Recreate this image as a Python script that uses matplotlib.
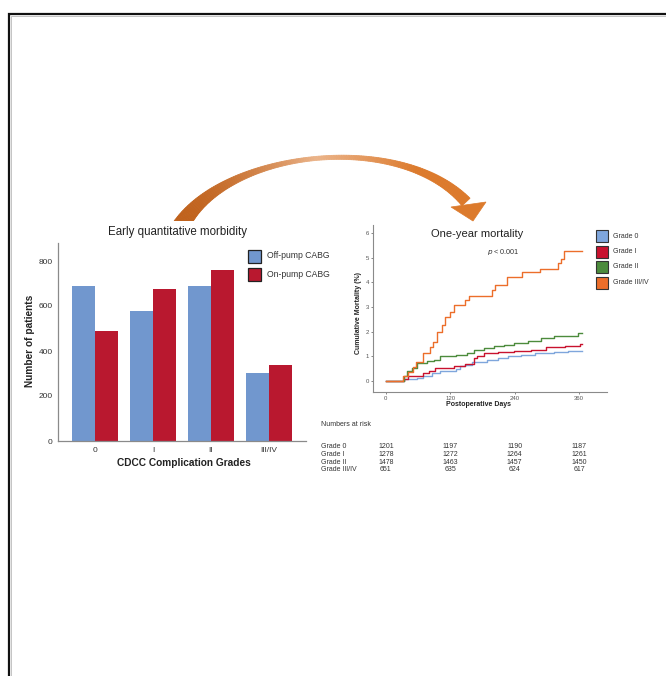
import numpy as np
import matplotlib
matplotlib.use("Agg")
import matplotlib.pyplot as plt
from matplotlib.patches import Polygon, Rectangle
from matplotlib.transforms import blended_transform_factory

plt.rcParams['font.family'] = ['Liberation Sans', 'DejaVu Sans']

# --- early morbidity (bar chart) ---
grades = ["0", "I", "II", "III/IV"]
off_pump = [690, 578, 690, 302]
on_pump = [489, 676, 759, 338]

# --- one-year mortality (cumulative incidence, %) ---
days_g0 = [0, 33, 58, 70, 86, 101, 130, 139, 148, 161, 189, 208, 227, 252, 277, 314, 320, 339, 365]
mort_g0 = [0, 0.08, 0.10, 0.19, 0.32, 0.39, 0.48, 0.59, 0.66, 0.75, 0.86, 0.93, 1.00, 1.06, 1.13, 1.16, 1.19, 1.22, 1.22]
days_g1 = [0, 33, 42, 70, 80, 92, 126, 148, 164, 170, 183, 208, 239, 270, 289, 299, 333, 361, 365]
mort_g1 = [0, 0.08, 0.19, 0.32, 0.39, 0.52, 0.59, 0.70, 0.93, 1.02, 1.13, 1.16, 1.20, 1.24, 1.27, 1.36, 1.43, 1.51, 1.51]
days_g2 = [0, 33, 39, 48, 58, 76, 89, 101, 130, 151, 164, 183, 202, 220, 239, 264, 289, 314, 352, 358, 365]
mort_g2 = [0, 0.19, 0.39, 0.52, 0.73, 0.80, 0.86, 1.00, 1.06, 1.13, 1.27, 1.33, 1.43, 1.47, 1.53, 1.60, 1.74, 1.80, 1.83, 1.94, 1.94]
days_g3 = [0, 32, 42, 51, 57, 70, 82, 88, 96, 104, 110, 119, 126, 147, 154, 197, 203, 225, 253, 287, 321, 326, 331, 365]
mort_g3 = [0, 0.20, 0.38, 0.58, 0.78, 1.12, 1.39, 1.59, 2.00, 2.27, 2.60, 2.80, 3.08, 3.28, 3.45, 3.68, 3.89, 4.20, 4.42, 4.53, 4.76, 4.96, 5.26, 5.26]
km_labels = ["Grade 0", "Grade I", "Grade II", "Grade III/IV"]
km_colors = ["#7FA6DC", "#C8122E", "#4C8B3C", "#EC6E2A"]

# numbers at risk at days 0 / 120 / 240 / 360
risk_days = [0, 120, 240, 360]
risk_g0 = [1201, 1197, 1190, 1187]
risk_g1 = [1278, 1272, 1264, 1261]
risk_g2 = [1478, 1463, 1457, 1450]
risk_g3 = [651, 635, 624, 617]

W, H = 666, 676
fig = plt.figure(figsize=(W / 100, H / 100), dpi=100)


def px_axes(l, t, r, b, **kw):
    return fig.add_axes([l / W, 1 - b / H, (r - l) / W, (b - t) / H], **kw)


# overlay in pixel units for frame, arrow and free text
ov = px_axes(0, 0, W, H, zorder=5)
ov.set_xlim(0, W)
ov.set_ylim(H, 0)
ov.axis("off")
ov.patch.set_alpha(0)

# outer frame (runs off the right and bottom edges)
ov.plot([9, 9, W + 5], [H + 5, 14, 14], color="#111111", lw=1.6, solid_joinstyle="miter")
ov.plot([11, 11, W + 5], [H + 5, 16, 16], color="#c4c4c4", lw=0.7)

# curved arrow from morbidity to mortality
P = np.array([[181, 226], [225, 150], [400, 130], [466, 202]], float)
t = np.linspace(0, 1, 140)
pts = ((1 - t) ** 3)[:, None] * P[0] + (3 * (1 - t) ** 2 * t)[:, None] * P[1] \
    + (3 * (1 - t) * t ** 2)[:, None] * P[2] + (t ** 3)[:, None] * P[3]
d = np.gradient(pts, axis=0)
nrm = np.stack([-d[:, 1], d[:, 0]], axis=1)
nrm /= np.linalg.norm(nrm, axis=1)[:, None]
wid = np.where(t < 0.5, 4 + 13 * (1 - 2 * t) ** 2, 4 + 7 * (2 * t - 1) ** 2) / 2
c0 = np.array(matplotlib.colors.to_rgb("#C0621C"))
c1 = np.array(matplotlib.colors.to_rgb("#EBB48A"))
c2 = np.array(matplotlib.colors.to_rgb("#DC7A2C"))
clip = Rectangle((0, 0), W, 220.5, transform=ov.transData)
for i in range(len(t) - 1):
    a = pts[i] + nrm[i] * wid[i]
    b = pts[i + 1] + nrm[i + 1] * wid[i + 1]
    c = pts[i + 1] - nrm[i + 1] * wid[i + 1]
    e = pts[i] - nrm[i] * wid[i]
    tm = t[i]
    if tm < 0.5:
        col = c0 + (c1 - c0) * (tm / 0.5) ** 2
    else:
        col = c1 + (c2 - c1) * min(1, ((tm - 0.5) / 0.3))
    seg = ov.add_patch(Polygon([a, b, c, e], closed=True, facecolor=col, edgecolor=col, lw=0.6))
    seg.set_clip_path(clip)
ov.add_patch(Polygon([[451, 207], [486, 202], [473, 221]], closed=True, facecolor="#DC7A2C", edgecolor="#DC7A2C", lw=0.5))

# ---------------- bar chart ----------------
ax = px_axes(58, 243, 306, 441)
x = np.arange(len(grades))
bw = 0.4
ax.bar(x - bw / 2, off_pump, bw, color="#7197CE", label="Off-pump CABG")
ax.bar(x + bw / 2, on_pump, bw, color="#B9182F", label="On-pump CABG")
ax.set_xlim(-0.64, 3.64)
ax.set_ylim(0, 880)
ax.set_yticks([0, 200, 400, 600, 800])
ax.set_xticks(x)
ax.set_xticklabels(grades)
ax.tick_params(length=0, labelsize=6, colors="#333333", pad=4)
for s in ["top", "right"]:
    ax.spines[s].set_visible(False)
for s in ["left", "bottom"]:
    ax.spines[s].set_color("#8a8a8a")
    ax.spines[s].set_linewidth(0.9)
ov.text(178, 232, "Early quantitative morbidity", fontsize=8.3, ha="center", va="center", color="#222222")
ov.text(30, 341, "Number of patients", fontsize=7.3, fontweight="bold", rotation=90, ha="center", va="center", color="#222222")
ov.text(184, 463, "CDCC Complication Grades", fontsize=7.3, fontweight="bold", ha="center", va="center", color="#222222")
for yy, lab, col in [(256, "Off-pump CABG", "#7197CE"), (274.5, "On-pump CABG", "#B9182F")]:
    ov.add_patch(Rectangle((248, yy - 6.5), 13, 13, facecolor=col, edgecolor="#222222", lw=0.9))
    ov.text(267, yy, lab, fontsize=6.2, ha="left", va="center", color="#333333")

# ---------------- Kaplan-Meier style chart ----------------
km = px_axes(373, 225, 607, 392)
for dd, mm, col in zip([days_g0, days_g1, days_g2, days_g3], [mort_g0, mort_g1, mort_g2, mort_g3], km_colors):
    km.step(dd, mm, where="post", color=col, lw=1.0)
km.set_xlim(-24, 412)
km.set_ylim(-0.45, 6.32)
km.set_xticks(risk_days)
km.set_yticks(range(7))
km.tick_params(length=1.5, width=0.5, labelsize=4.3, colors="#555555", pad=1.5)
for s in ["top", "right"]:
    km.spines[s].set_visible(False)
for s in ["left", "bottom"]:
    km.spines[s].set_color("#8a8a8a")
    km.spines[s].set_linewidth(0.8)
ov.text(477, 234, "One-year mortality", fontsize=8, ha="center", va="center", color="#222222")
ov.text(487, 252, r"$\it{p}$ < 0.001", fontsize=5.2, ha="left", va="center", color="#333333")
ov.text(358, 313, "Cumulative Mortality (%)", fontsize=5, fontweight="bold", rotation=90, ha="center", va="center", color="#222222")
ov.text(479, 405, "Postoperative Days", fontsize=5, fontweight="bold", ha="center", va="center", color="#222222")
for yy, lab, col in zip([236, 251.5, 267, 282.5], km_labels, km_colors):
    ov.add_patch(Rectangle((596, yy - 6), 12, 12, facecolor=col, edgecolor="#333333", lw=0.8))
    ov.text(613, yy, lab, fontsize=5, ha="left", va="center", color="#333333")

# numbers at risk table, columns aligned with the day ticks
tr = blended_transform_factory(km.transData, ov.transData)
ov.text(321, 425, "Numbers at risk", fontsize=5, ha="left", va="center", color="#333333")
for yy, lab, vals in zip([446, 454, 462, 469.5], km_labels, [risk_g0, risk_g1, risk_g2, risk_g3]):
    ov.text(321, yy, lab, fontsize=5, ha="left", va="center", color="#333333")
    for dday, v in zip(risk_days, vals):
        ov.text(dday, yy, str(v), fontsize=5, ha="center", va="center", color="#333333", transform=tr)

fig.savefig("out.png", dpi=100)
